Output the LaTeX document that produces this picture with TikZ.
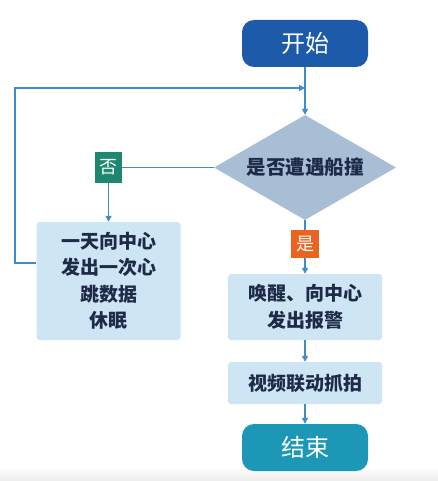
\documentclass[tikz,border=0pt]{standalone}
\usepackage{fontspec}
\newfontfamily\cjk{Noto Sans CJK SC}
\usetikzlibrary{shapes.geometric,arrows.meta}
\definecolor{startblue}{RGB}{30,90,170}
\definecolor{endteal}{RGB}{28,152,182}
\definecolor{diafill}{RGB}{168,190,212}
\definecolor{boxfill}{RGB}{206,230,244}
\definecolor{nogreen}{RGB}{30,135,112}
\definecolor{yesorange}{RGB}{234,100,32}
\definecolor{linecol}{RGB}{62,140,200}
\definecolor{txtcol}{RGB}{30,42,72}
\begin{document}
\begin{tikzpicture}[x=1pt,y=-1pt,
  term/.style={rounded corners=12pt, minimum width=126pt, minimum height=47pt, inner sep=0pt, text=white, font=\cjk\fontsize{24}{28}\selectfont},
  procbox/.style={fill=boxfill, rounded corners=3pt, minimum width=154pt, inner sep=0pt, text=txtcol, align=center, font=\cjk\bfseries\fontsize{19}{26.5}\selectfont},
  tag/.style={inner sep=0pt, text=white, font=\cjk\fontsize{18}{20}\selectfont},
  conn/.style={draw=linecol, line width=1.3pt},
  arr/.style={conn, -{Triangle[length=6pt,width=6pt]}}]
\useasboundingbox (0,0) rectangle (438,481);
\fill[white] (0,0) rectangle (438,481);
\shade[top color=white, bottom color=black!7] (0,466) rectangle (438,481);
\node[term, fill=startblue] (start) at (305,43.5) {开始};
\node[diamond, aspect=1.73, fill=diafill, minimum width=182pt, minimum height=105pt, inner sep=0pt, text=txtcol, font=\cjk\bfseries\fontsize{19.5}{22}\selectfont] (dec) at (305,167.5) {是否遭遇船撞};
\node[tag, fill=nogreen, minimum width=27pt, minimum height=30pt] (no) at (108.5,167.5) {否};
\node[procbox, minimum width=144pt, minimum height=118pt] (left) at (108.5,281) {一天向中心\\发出一次心\\跳数据\\休眠};
\node[tag, fill=yesorange, minimum width=28pt, minimum height=28pt] (yes) at (305,244) {是};
\node[procbox, minimum height=66pt] (alarm) at (305,307) {唤醒、向中心\\发出报警};
\node[procbox, minimum height=42pt] (video) at (305,383) {视频联动抓拍};
\node[term, fill=endteal] (end) at (305,447.5) {结束};
\coordinate (join) at (305,88);
\coordinate (loopA) at (15,263);
\coordinate (loopB) at (15,88);
\draw[conn] (start.south) -- (join);
\draw[arr] (join) -- (dec.north);
\draw[arr] ([yshift=18pt]left.west) -- (loopA) -- (loopB) -- (join);
\draw[conn] (dec.west) -- (no.east);
\draw[arr] (no.south) -- (left.north);
\draw[conn] (dec.south) -- (yes.north);
\draw[arr] (yes.south) -- (alarm.north);
\draw[arr] (alarm.south) -- (video.north);
\draw[arr] (video.south) -- (end.north);
\end{tikzpicture}
\end{document}
